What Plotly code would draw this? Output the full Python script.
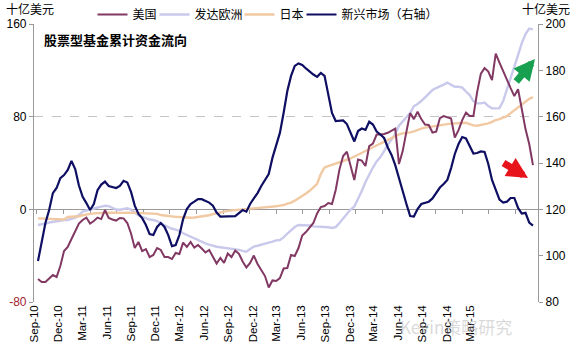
import pandas as pd
import plotly.graph_objects as go

# Bi-weekly observation dates (category axis)
dates = pd.date_range("2010-09-15", periods=134, freq="14D")

# 美国 (left axis, 十亿美元)
us = [-60.2, -62.7, -62.7, -59.3, -56.7, -58.4, -48.9, -36.0, -32.5, -25.6,
      -19.2, -12.3, -9.2, -7.1, -12.3, -10.1, -7.1, -8.4, -0.6, -7.5,
      -8.8, -9.7, -7.5, -7.8, -11.8, -20.9, -33.4, -28.2, -36.0, -34.3,
      -41.2, -39.4, -33.4, -35.1, -41.2, -41.2, -42.9, -37.7, -38.6, -28.7,
      -32.5, -28.2, -33.0, -30.8, -33.8, -37.3, -35.1, -41.6, -46.8, -42.0,
      -46.3, -38.1, -41.2, -35.6, -38.4, -45.0, -50.2, -46.3, -39.9, -47.2,
      -52.0, -57.6, -67.5, -61.4, -61.9, -59.3, -51.1, -50.7, -39.4, -40.3,
      -33.4, -22.6, -19.6, -16.1, -11.8, -3.6, 2.0, 2.8, 5.4, 4.6,
      16.7, 34.3, 46.0, 49.7, 36.5, 25.3, 43.0, 42.1, 37.4, 54.6,
      56.8, 64.6, 64.6, 65.0, 66.1, 67.6, 69.6, 39.1, 50.3, 67.1,
      83.1, 77.9, 84.2, 77.9, 73.2, 72.8, 66.3, 67.1, 78.8, 80.5,
      79.2, 78.4, 62.0, 68.4, 77.1, 83.5, 80.5, 80.5, 101.2, 117.2,
      121.9, 118.9, 111.6, 134.5, 126.7, 118.9, 111.2, 104.7, 97.8, 103.8,
      86.6, 69.3, 56.4, 38.2]

# 发达欧洲 (left axis)
europe = [-13.5, -13.1, -12.3, -11.4, -10.8, -10.3, -9.7, -9.2, -9.2, -8.2,
          -7.1, -4.9, -1.9, -1.0, 0.0, 0.7, 1.6, 2.3, 3.1, 2.8,
          1.1, -0.2, -0.3, 0.3, 0.9, -0.3, -2.9, -5.2, -6.5, -7.7,
          -8.8, -9.2, -10.1, -12.1, -13.7, -15.9, -16.8, -17.5, -18.7, -20.7,
          -22.2, -23.3, -24.8, -26.1, -28.1, -29.3, -30.4, -31.4, -32.3, -32.7,
          -33.1, -33.4, -33.7, -34.3, -35.0, -35.9, -36.6, -34.3, -32.1, -31.4,
          -30.7, -29.5, -28.7, -27.8, -26.8, -26.5, -24.2, -21.0, -17.9, -15.3,
          -13.5, -13.5, -13.5, -14.0, -14.7, -14.8, -14.9, -15.0, -15.5, -16.1,
          -15.3, -11.8, -7.9, -3.2, -0.2, 2.4, 8.9, 15.8, 23.6, 30.5,
          36.1, 41.3, 45.1, 50.3, 55.9, 60.2, 65.0, 72.3, 75.8, 79.1,
          83.1, 89.1, 90.9, 93.5, 96.5, 99.5, 103.0, 104.7, 106.0, 107.7,
          109.4, 107.7, 105.8, 105.8, 105.1, 101.7, 98.6, 93.5, 91.5, 91.5,
          92.2, 89.1, 87.2, 87.2, 87.4, 93.5, 103.0, 114.2, 123.7, 133.2,
          143.5, 151.3, 156.0, 155.3]

# 日本 (left axis)
japan = [-7.8, -7.9, -8.2, -8.5, -8.7, -8.8, -8.8, -8.8, -6.6, -6.5,
         -6.2, -6.0, -5.1, -4.2, -3.9, -3.5, -3.2, -2.9, -2.9, -2.9,
         -2.9, -3.1, -3.2, -3.1, -3.0, -2.9, -2.9, -3.1, -3.3, -3.5,
         -3.6, -3.6, -3.9, -4.9, -5.4, -5.9, -6.3, -6.5, -6.6, -6.9,
         -7.2, -7.3, -7.0, -6.6, -6.3, -6.0, -5.1, -4.2, -3.4, -2.6,
         -1.7, -1.3, -0.9, -0.6, -0.6, -0.3, -0.1, 0.2, 0.3, 0.6,
         0.9, 1.4, 1.8, 2.0, 2.6, 3.2, 3.7, 4.9, 5.8, 7.5,
         9.4, 11.5, 13.6, 16.0, 18.8, 22.0, 30.5, 36.1, 37.4, 38.6,
         39.6, 40.6, 41.7, 42.8, 43.9, 45.6, 47.1, 48.8, 50.3, 51.9,
         53.5, 55.1, 56.8, 58.3, 60.0, 61.5, 63.2, 64.7, 65.6, 65.8,
         66.4, 67.3, 68.8, 69.6, 70.6, 71.2, 71.7, 72.2, 72.8, 73.3,
         73.6, 74.0, 74.3, 74.5, 74.6, 74.7, 73.6, 72.5, 72.2, 72.8,
         73.4, 74.2, 75.5, 77.1, 77.9, 79.0, 80.5, 83.1, 85.7, 88.3,
         90.7, 93.3, 95.4, 96.9]

# 新兴市场 (right axis)
em = [97.7, 106.3, 114.1, 119.7, 127.0, 129.2, 133.5, 134.8, 137.0, 140.9,
      137.4, 130.3, 125.4, 122.7, 119.7, 122.3, 128.3, 130.7, 132.0, 130.1,
      129.8, 129.2, 130.1, 132.3, 131.6, 127.5, 121.6, 118.0, 116.2, 113.2,
      109.3, 108.9, 112.4, 114.1, 112.4, 108.9, 104.1, 104.6, 108.9, 115.8,
      120.1, 122.3, 123.3, 124.4, 124.4, 123.6, 122.9, 121.6, 118.6, 116.9,
      117.0, 117.1, 116.9, 117.1, 118.4, 119.7, 119.0, 122.3, 124.7, 127.0,
      130.1, 132.7, 135.2, 142.2, 148.0, 153.0, 161.6, 171.1, 177.6, 181.9,
      183.0, 182.3, 180.8, 179.3, 178.2, 177.2, 178.9, 177.6, 169.4, 161.6,
      158.1, 158.1, 158.4, 156.8, 153.2, 149.3, 153.8, 154.9, 154.3, 157.8,
      156.6, 153.6, 152.3, 150.8, 146.7, 143.5, 139.1, 134.0, 127.9, 122.3,
      117.1, 116.9, 120.1, 122.3, 122.9, 123.3, 124.7, 126.8, 129.4, 130.9,
      132.7, 137.8, 143.9, 148.2, 151.2, 150.6, 147.3, 144.1, 144.3, 145.0,
      144.8, 139.6, 132.7, 128.3, 124.2, 122.9, 123.3, 124.9, 124.9, 120.6,
      118.2, 118.5, 114.3, 113.0]

series_names = ["美国", "发达欧洲", "日本", "新兴市场（右轴）"]
left_ticks = [-80, 0, 80, 160]
x_tick_dates = pd.date_range("2010-09-01", "2015-03-01", freq="3MS")

FONT = "Liberation Sans, Arial, Noto Sans CJK SC, sans-serif"
AX = "#9a9a9a"
L, R, T, B = 34, 38, 24, 56
PW, PH = 576 - L - R, 358 - T - B


def px(x):
    return (x - L) / PW


def py(y):
    return (358 - B - y) / PH


fig = go.Figure()
fig.add_trace(go.Scatter(x=dates, y=europe, name=series_names[1], mode="lines",
                         line=dict(color="#c9c9ec", width=2.4), legendrank=2,
                         legendwidth=40))
fig.add_trace(go.Scatter(x=dates, y=japan, name=series_names[2], mode="lines",
                         line=dict(color="#f1c9a2", width=2.4), legendrank=3,
                         legendwidth=17))
fig.add_trace(go.Scatter(x=dates, y=us, name=series_names[0], mode="lines",
                         line=dict(color="#813863", width=2), legendrank=1,
                         legendwidth=17))
fig.add_trace(go.Scatter(x=dates, y=em, name=series_names[3], mode="lines",
                         line=dict(color="#0e0e62", width=2.2), yaxis="y2",
                         legendrank=4))

xr = ["2010-08-31", "2015-11-09"]
fig.update_layout(
    width=576, height=358,
    margin=dict(l=L, r=R, t=T, b=B, autoexpand=False),
    paper_bgcolor="white", plot_bgcolor="white",
    font=dict(family=FONT, size=12, color="#000"),
    showlegend=True,
    legend=dict(orientation="h", x=px(268), xanchor="center", y=py(0), yanchor="top",
                font=dict(size=12), itemwidth=30, tracegroupgap=0,
                bgcolor="rgba(0,0,0,0)", traceorder="normal"),
    xaxis=dict(range=xr, type="date", tickvals=list(x_tick_dates),
               tickformat="%b-%y", tickangle=-90, showgrid=False,
               showline=False, ticks="", zeroline=False, automargin=False,
               tickfont=dict(size=11.5)),
    xaxis2=dict(range=xr, type="date", matches="x", overlaying="x",
                anchor="free", position=1/3, side="bottom",
                showline=True, linecolor=AX, linewidth=1.2,
                ticks="outside", ticklen=4, tickcolor=AX,
                tick0="2010-09-11", dtick=100 * 86400000,
                showticklabels=False, showgrid=False, layer="below traces"),
    yaxis=dict(range=[-80, 160], tickvals=left_ticks,
               ticktext=['<span style="color:#a3232f">-80</span>', "0", "80", "160"],
               showgrid=True, gridcolor="#c4c4c4", griddash="dash", gridwidth=1,
               zeroline=False, showline=True, linecolor=AX, linewidth=1.2,
               ticks="outside", ticklen=4, tickcolor=AX, automargin=False,
               tickfont=dict(size=12), layer="below traces"),
    yaxis2=dict(range=[80, 200], dtick=20, overlaying="y", side="right",
                showgrid=False, zeroline=False, showline=True, linecolor=AX,
                linewidth=1.2, ticks="outside", ticklen=4, tickcolor=AX,
                automargin=False, tickfont=dict(size=12)),
)

# dummy trace so xaxis2 is rendered
fig.add_trace(go.Scatter(x=[dates[0]], y=[None], xaxis="x2", showlegend=False,
                         hoverinfo="skip"))

fig.add_annotation(text="<b>股票型基金累计资金流向</b>", xref="paper", yref="paper",
                   x=px(42), y=py(39), xanchor="left",
                   yanchor="middle", showarrow=False,
                   font=dict(size=13, family="Noto Sans CJK SC", color="#000"))
fig.add_annotation(text="十亿美元", xref="paper", yref="paper",
                   x=px(4), y=py(8.5), xanchor="left",
                   yanchor="middle", showarrow=False,
                   font=dict(size=12, family="Noto Sans CJK SC"))
fig.add_annotation(text="十亿美元", xref="paper", yref="paper",
                   x=px(572), y=py(8.5), xanchor="right",
                   yanchor="middle", showarrow=False,
                   font=dict(size=12, family="Noto Sans CJK SC"))

# highlight arrows (offsets in pixels)
fig.add_annotation(xref="paper", yref="paper", x=px(535), y=py(59),
                   ax=-20, ay=24, text="", showarrow=True,
                   arrowhead=2, arrowsize=0.6, arrowwidth=7, arrowcolor="#17a04f")
fig.add_annotation(xref="paper", yref="paper", x=px(528), y=py(178),
                   ax=-26, ay=-16, text="", showarrow=True,
                   arrowhead=2, arrowsize=0.6, arrowwidth=7, arrowcolor="#e8141c")

# watermark
fig.add_annotation(text="Kevin策略研究", xref="paper", yref="paper",
                   x=px(398), y=py(326), xanchor="left",
                   yanchor="middle", showarrow=False,
                   font=dict(size=17, family="Noto Sans CJK SC", color="rgba(170,170,170,0.45)"))

fig.write_html("out.html", config={"displayModeBar": False},
               post_script="document.body.style.margin='0';")
